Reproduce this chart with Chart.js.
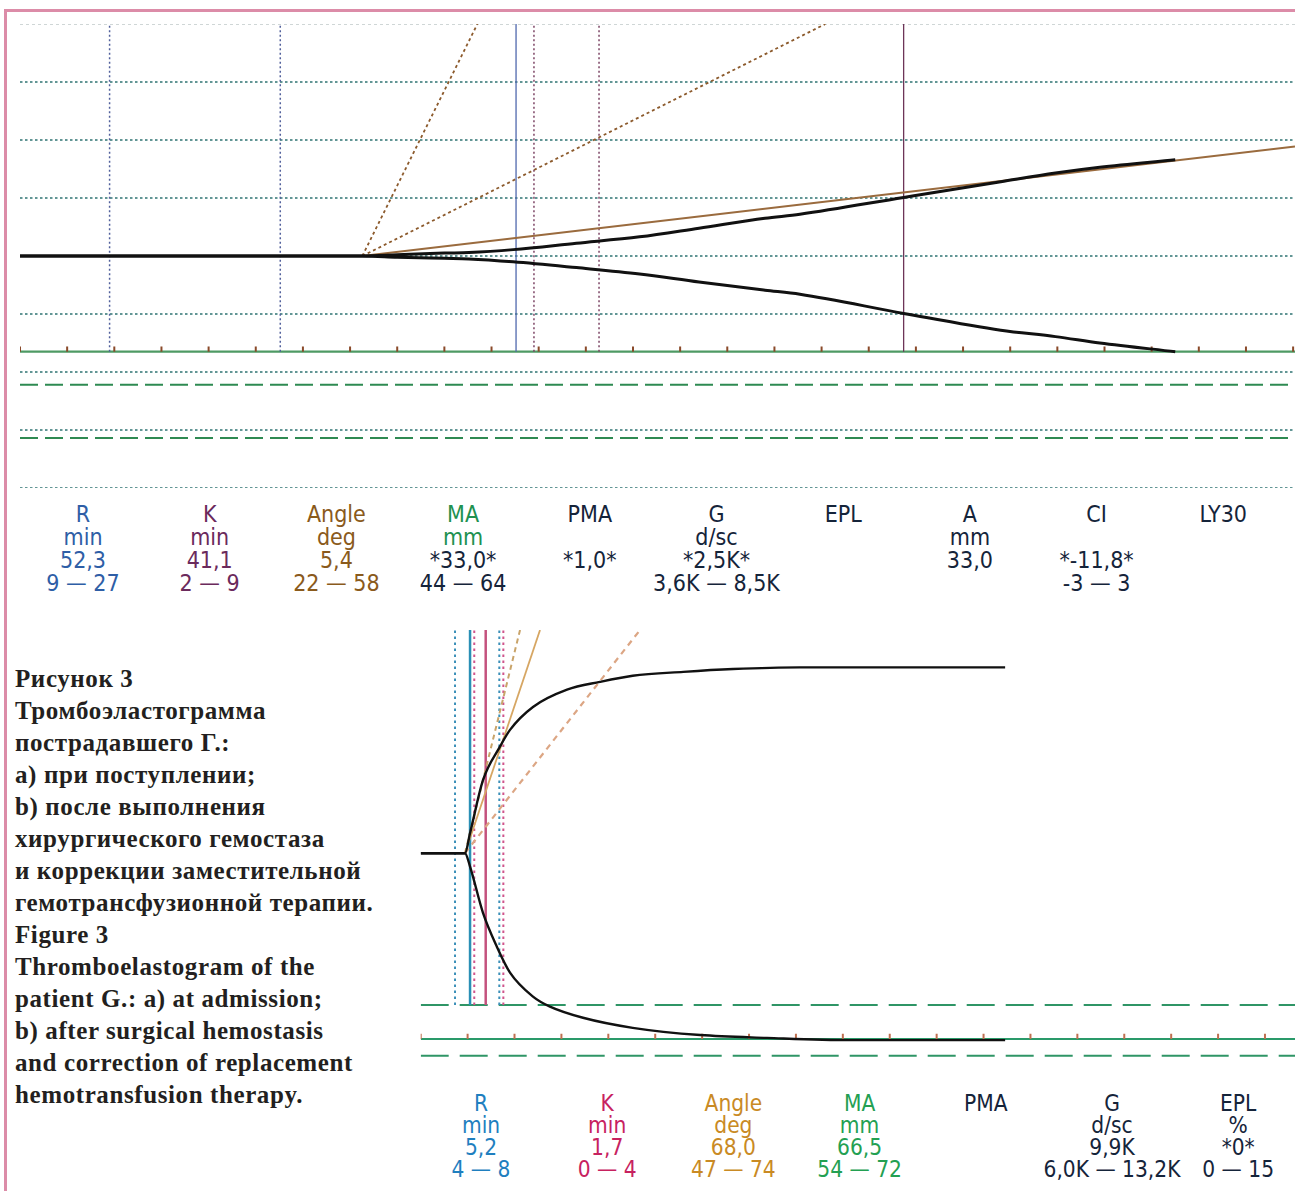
<!DOCTYPE html>
<html>
<head>
<meta charset="utf-8">
<script src="https://cdn.jsdelivr.net/npm/chart.js@4"></script>
<style>
  body { margin: 0; background: #fff; }
  #page { position: relative; width: 1295px; height: 1191px; overflow: hidden; }
  #frame { position: absolute; left: 4px; top: 9px; width: 1300px; height: 1200px;
           border-left: 3px solid #dc8ca8; border-top: 3px solid #dc8ca8; }
  canvas { position: absolute; }
  .tbl { position: absolute; font-family: "DejaVu Sans Condensed", "DejaVu Sans", sans-serif;
         font-stretch: condensed; text-align: center; white-space: nowrap; }
  .col { position: absolute; width: 180px; margin-left: -90px; }
  #caption { position: absolute; left: 15px; top: 663px; font-family: "Liberation Serif", serif;
             font-weight: bold; font-size: 25px; letter-spacing: 0.6px; line-height: 32px;
             color: #231f20; white-space: nowrap; }
</style>
</head>
<body>
<div id="page">
  <div id="frame"></div>
  <canvas id="topChart" width="1295" height="500" style="left:0;top:0"></canvas>
  <canvas id="botChart" width="895" height="470" style="left:400px;top:600px"></canvas>
  <div id="topTable" class="tbl" style="top:503px;font-size:23px;line-height:23px"></div>
  <div id="botTable" class="tbl" style="top:1092px;font-size:22.5px;line-height:22px"></div>
  <div id="caption">
    Рисунок 3<br>
    Тромбоэластограмма<br>
    пострадавшего Г.:<br>
    а) при поступлении;<br>
    b) после выполнения<br>
    хирургического гемостаза<br>
    и коррекции заместительной<br>
    гемотрансфузионной терапии.<br>
    Figure 3<br>
    Thromboelastogram of the<br>
    patient G.: a) at admission;<br>
    b) after surgical hemostasis<br>
    and correction of replacement<br>
    hemotransfusion therapy.
  </div>
</div>
<script>
// ---- a) at admission: time (min) vs amplitude (mm)
const topUpperT = [0, 36.3, 40, 45, 47.6, 52.3, 59, 65.7, 72, 79, 82.7, 93.7, 104, 109.8, 114.5, 122.5];
const topUpper  = [0, 0, 0.2, 0.5, 0.6, 1.1, 2.2, 3.3, 4.8, 6.5, 7.2, 10.1, 12.8, 14.3, 15.3, 16.6];
const topLowerT = [0, 36.3, 40, 45, 47.6, 52.3, 59, 65.7, 72, 79, 82.7, 93.7, 104, 109.8, 114.5, 122.5];
const topLower  = [0, 0, -0.2, -0.4, -0.5, -1.0, -2.0, -3.1, -4.5, -5.9, -6.6, -9.9, -12.8, -13.9, -15.0, -16.5];
const topAngleOrigin = [36.3, 0];
const topAngleEnd = [135.2, 18.9];
const topAngleRangeX = [48.5, 85.4];     // where the range lines reach the top (40 mm)
const topRangeR = [9.5, 27.6];
const topR = 52.6;
const topRangeK = [54.5, 61.4];
const topRK = 93.7;
const topGridY = [30, 20, 10, 0, -10, -20, -30, -40];
const topTopY = 40;
const topAxisY = -16.5;
const topLysisY = [-22.2, -31.4];
const topTicks = Array.from({length: 28}, (_, i) => i * 5);

// ---- b) after correction
const botUpperT = [0, 4.72, 5.26, 6.64, 8.45, 9.52, 11.97, 15.6, 19.1, 22.6, 28, 33.3, 40.4, 62.3];
const botUpper  = [0, 0, 3.6, 13.1, 19.1, 22.1, 26.2, 29.3, 30.7, 31.8, 32.5, 33.0, 33.3, 33.3];
const botLowerT = [0, 4.72, 5.26, 6.64, 8.13, 9.52, 11.97, 13.78, 17.3, 22.6, 29.8, 36.9, 45.8, 62.3];
const botLower  = [0, 0, -2.4, -10.7, -16.8, -21.4, -25.7, -27.5, -29.5, -31.3, -32.6, -33.1, -33.5, -33.5];
const botAngleOrigin = [4.72, 0];
const botAngleTopX = 12.72;
const botAngleRangeX = [10.59, 23.38];
const botRangeR = [3.66, 8.38];
const botR = 5.26;
const botRangeK = [5.71, 8.81];
const botRK = 6.93;
const botAxisY = -33.3;
const botLysisY = [-27.2, -36.3];
const botTicks = Array.from({length: 19}, (_, i) => i * 5);

// ---- parameter tables
const topParams = ['R', 'K', 'Angle', 'MA', 'PMA', 'G', 'EPL', 'A', 'CI', 'LY30'];
const topUnits  = ['min', 'min', 'deg', 'mm', '', 'd/sc', '', 'mm', '', ''];
const topValues = ['52,3', '41,1', '5,4', '*33,0*', '*1,0*', '*2,5K*', '', '33,0', '*-11,8*', ''];
const topRanges = ['9 — 27', '2 — 9', '22 — 58', '44 — 64', '', '3,6K — 8,5K', '', '', '-3 — 3', ''];
const botParams = ['R', 'K', 'Angle', 'MA', 'PMA', 'G', 'EPL'];
const botUnits  = ['min', 'min', 'deg', 'mm', '', 'd/sc', '%'];
const botValues = ['5,2', '1,7', '68,0', '66,5', '', '9,9K', '*0*'];
const botRanges = ['4 — 8', '0 — 4', '47 — 74', '54 — 72', '', '6,0K — 13,2K', '0 — 15'];

function pts(xs, ys) { return xs.map((x, i) => ({x: x, y: ys[i]})); }
function seg(x1, y1, x2, y2, color, width, dash) {
    return { data: [{x: x1, y: y1}, {x: x2, y: y2}], borderColor: color, borderWidth: width,
             borderDash: dash || [], showLine: true, pointRadius: 0 };
}
function curve(data, width) {
    return { data: data, borderColor: '#111', borderWidth: width, showLine: true,
             pointRadius: 0, cubicInterpolationMode: 'monotone' };
}
function tickMarks(ticks, y, color) {
    return { data: ticks.map(t => ({x: t, y: y})), pointStyle: 'line', rotation: 90, radius: 2.6,
             borderColor: color, borderWidth: 2, showLine: false };
}

// top chart
const topX0 = 0, topX1 = 135.2;
const topDatasets = [
    curve(pts(topUpperT, topUpper), 3),
    curve(pts(topLowerT, topLower), 3),
    seg(topAngleOrigin[0], topAngleOrigin[1], topAngleEnd[0], topAngleEnd[1], '#9a6b3e', 2),
    seg(topAngleOrigin[0], topAngleOrigin[1], topAngleRangeX[0], topTopY, '#8c5a2c', 1.8, [3, 3]),
    seg(topAngleOrigin[0], topAngleOrigin[1], topAngleRangeX[1], topTopY, '#8c5a2c', 1.8, [3, 3]),
    seg(topR, topAxisY, topR, topTopY, '#4f68ad', 1.3),
    seg(topRK, topAxisY, topRK, topTopY, '#6d3558', 1.3),
    ...topRangeR.map(v => seg(v, topAxisY, v, topTopY, '#52609c', 1.5, [2, 2.5])),
    ...topRangeK.map(v => seg(v, topAxisY, v, topTopY, '#7d4565', 1.5, [2, 2.5])),
    tickMarks(topTicks, topAxisY + 0.45, '#8a4a2a'),
    seg(topX0, topAxisY, topX1, topAxisY, '#4e9a64', 2.2),
    ...topLysisY.map(v => seg(topX0, v, topX1, v, '#2e8a52', 2, [18, 7])),
    ...topGridY.map(v => seg(topX0, v, topX1, v, '#2f7473', 1.6, [2.5, 2.5])),
    seg(topX0, topTopY, topX1, topTopY, '#cfd6d6', 2, [3, 3])
];

// bottom chart
const botX0 = 0, botX1 = 93.2, botTopY = 40;
const botDatasets = [
    curve(pts(botUpperT, botUpper), 2.4),
    curve(pts(botLowerT, botLower), 2.4),
    seg(botAngleOrigin[0], botAngleOrigin[1], botAngleTopX, botTopY, '#d6a663', 1.8),
    seg(botAngleOrigin[0], botAngleOrigin[1], botAngleRangeX[0], botTopY, '#c9a46a', 2, [5, 4]),
    seg(botAngleOrigin[0], botAngleOrigin[1], botAngleRangeX[1], botTopY, '#dca684', 2.2, [6, 5]),
    seg(botR, botLysisY[0], botR, botTopY, '#2a8fb5', 2.5),
    seg(botRK, botLysisY[0], botRK, botTopY, '#c4527e', 2.5),
    ...botRangeR.map(v => seg(v, botLysisY[0], v, botTopY, '#3a8fb8', 2, [2.5, 3.5])),
    ...botRangeK.map(v => seg(v, botLysisY[0], v, botTopY, '#d0558c', 2, [2.5, 3.5])),
    tickMarks(botTicks, botAxisY + 0.45, '#c07050'),
    seg(botX0, botAxisY, botX1, botAxisY, '#2a9a6a', 2),
    ...botLysisY.map(v => seg(botX0, v, botX1, v, '#2f9566', 2, [28, 11]))
];

function makeChart(id, datasets, xmin, xmax, ymin, ymax, padding) {
    return new Chart(document.getElementById(id), {
        type: 'scatter',
        data: { datasets: datasets },
        options: {
            responsive: false,
            animation: false,
            devicePixelRatio: 1,
            layout: { padding: padding, autoPadding: false },
            plugins: { legend: { display: false }, tooltip: { enabled: false } },
            scales: {
                x: { type: 'linear', min: xmin, max: xmax, display: false },
                y: { type: 'linear', min: ymin, max: ymax, display: false }
            }
        }
    });
}

makeChart('topChart', topDatasets, topX0, topX1, -40, 40, {left: 20, right: 0, top: 24, bottom: 12});
makeChart('botChart', botDatasets, botX0, botX1, -38, 40, {left: 20.7, right: 0, top: 30, bottom: 4.8});

// tables
const topColors = ['#2e5ea6', '#6b2a5c', '#8a5a1c', '#219150', '#15243a', '#15243a', '#15243a', '#15243a', '#15243a', '#15243a'];
const topRowColors = [null, null, null, '#15243a', null, null, null, null, null, null];
const botColors = ['#1f7fbf', '#c7225f', '#c98a24', '#23a052', '#15243a', '#15243a', '#15243a'];

function buildTable(el, params, units, values, ranges, x0, step, colors, lowerColors) {
    params.forEach((p, i) => {
        const d = document.createElement('div');
        d.className = 'col';
        d.style.left = (x0 + step * i) + 'px';
        d.style.color = colors[i];
        const low = lowerColors && lowerColors[i] ? lowerColors[i] : colors[i];
        d.innerHTML = '<div>' + p + '</div><div>' + (units[i] || '&nbsp;') + '</div>' +
            '<div style="color:' + low + '">' + (values[i] || '&nbsp;') + '</div>' +
            '<div style="color:' + low + '">' + (ranges[i] || '&nbsp;') + '</div>';
        el.appendChild(d);
    });
}
buildTable(document.getElementById('topTable'), topParams, topUnits, topValues, topRanges, 83, 126.7, topColors, topRowColors);
buildTable(document.getElementById('botTable'), botParams, botUnits, botValues, botRanges, 481, 126.2, botColors, null);
</script>
</body>
</html>
